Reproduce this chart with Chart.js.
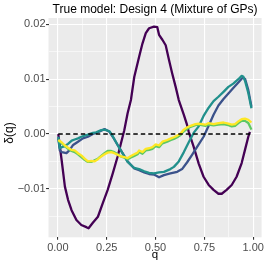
<!DOCTYPE html>
<html>
<head>
<meta charset="utf-8">
<script src="https://cdn.jsdelivr.net/npm/chart.js@4/dist/chart.umd.min.js"></script>
<style>
  html, body { margin: 0; padding: 0; background: #ffffff; }
  #wrap { width: 266px; height: 266px; position: relative; }
</style>
</head>
<body>
<div id="wrap"><canvas id="c"></canvas></div>
<script>
// ---- Data ----
const titleText = "True model: Design 4 (Mixture of GPs)";
const xTitle = "q";
const yTitle = "δ(q)";

const xMajorTicks = [0, 0.25, 0.5, 0.75, 1];
const xMinorTicks = [0.125, 0.375, 0.625, 0.875];
const yMajorTicks = [-0.01, 0, 0.01, 0.02];
const yMinorTicks = [-0.015, -0.005, 0.005, 0.015];

const seriesColors = ["#440154", "#3B528B", "#21908C", "#5DC863", "#FDE725"];

const s1Q = [0.002,0.019,0.036,0.052,0.070,0.095,0.120,0.146,0.157,0.179,0.205,0.230,0.255,0.281,0.306,0.323,0.340,0.357,0.374,0.391,0.416,0.433,0.450,0.467,0.492,0.509,0.518,0.535,0.552,0.569,0.585,0.603,0.619,0.645,0.661,0.670,0.695,0.721,0.746,0.772,0.797,0.822,0.839,0.864,0.890,0.915,0.941,0.958,0.975,0.983];
const s1D = [0.0000,-0.0047,-0.0096,-0.0120,-0.0139,-0.0157,-0.0166,-0.0170,-0.0172,-0.0162,-0.0151,-0.0126,-0.0102,-0.0072,-0.0041,-0.0017,0.0007,0.0038,0.0062,0.0104,0.0141,0.0165,0.0184,0.0193,0.0196,0.0195,0.0181,0.0172,0.0162,0.0135,0.0111,0.0086,0.0062,0.0035,0.0017,0.0004,-0.0023,-0.0054,-0.0078,-0.0093,-0.0102,-0.0109,-0.0109,-0.0102,-0.0093,-0.0078,-0.0053,-0.0029,-0.0005,0.0004];

const s2Q = [0.002,0.010,0.020,0.044,0.061,0.078,0.103,0.128,0.154,0.179,0.196,0.222,0.239,0.264,0.281,0.306,0.331,0.357,0.391,0.416,0.442,0.467,0.492,0.518,0.543,0.576,0.611,0.636,0.661,0.687,0.721,0.746,0.772,0.797,0.822,0.848,0.873,0.898,0.924,0.941,0.949,0.959,0.975,0.991];
const s2D = [-0.0008,-0.0030,-0.0033,-0.0035,-0.0029,-0.0020,-0.0014,-0.0008,-0.0005,0.0000,0.0002,0.0006,0.0009,0.0004,-0.0005,-0.0020,-0.0035,-0.0050,-0.0063,-0.0066,-0.0070,-0.0073,-0.0074,-0.0079,-0.0075,-0.0072,-0.0069,-0.0064,-0.0052,-0.0038,-0.0019,-0.0005,0.0015,0.0035,0.0052,0.0064,0.0074,0.0084,0.0094,0.0101,0.0103,0.0100,0.0080,0.0050];

const s3Q = [0.002,0.010,0.020,0.036,0.052,0.071,0.086,0.103,0.120,0.137,0.154,0.179,0.196,0.222,0.239,0.264,0.281,0.306,0.331,0.357,0.391,0.416,0.442,0.467,0.492,0.518,0.543,0.576,0.594,0.619,0.645,0.670,0.695,0.721,0.746,0.772,0.797,0.822,0.848,0.873,0.898,0.924,0.941,0.949,0.959,0.975,0.991];
const s3D = [-0.0005,-0.0026,-0.0024,-0.0022,-0.0018,-0.0012,-0.0010,-0.0008,-0.0005,-0.0003,-0.0001,0.0002,0.0003,0.0007,0.0008,0.0005,-0.0004,-0.0020,-0.0035,-0.0051,-0.0062,-0.0064,-0.0068,-0.0071,-0.0072,-0.0070,-0.0069,-0.0064,-0.0060,-0.0050,-0.0033,-0.0015,0.0002,0.0014,0.0033,0.0048,0.0060,0.0068,0.0077,0.0086,0.0092,0.0100,0.0106,0.0105,0.0096,0.0075,0.0047];

const s45Q = [0.002,0.019,0.036,0.052,0.070,0.086,0.103,0.120,0.137,0.154,0.171,0.188,0.205,0.222,0.239,0.255,0.273,0.289,0.306,0.323,0.340,0.357,0.374,0.391,0.408,0.416,0.433,0.450,0.467,0.484,0.501,0.518,0.535,0.560,0.579,0.594,0.611,0.628,0.645,0.661,0.679,0.704,0.721,0.738,0.755,0.772,0.797,0.822,0.848,0.873,0.890,0.907,0.924,0.941,0.958,0.975,0.991];
const s4D = [-0.0012,-0.0017,-0.0022,-0.0027,-0.0031,-0.0033,-0.0037,-0.0042,-0.0047,-0.0051,-0.0051,-0.0048,-0.0045,-0.0040,-0.0035,-0.0031,-0.0031,-0.0033,-0.0037,-0.0041,-0.0043,-0.0046,-0.0043,-0.0040,-0.0037,-0.0033,-0.0036,-0.0030,-0.0029,-0.0027,-0.0022,-0.0024,-0.0017,-0.0014,-0.0011,-0.0009,-0.0006,-0.0002,0.0005,0.0009,0.0013,0.0016,0.0017,0.0016,0.0015,0.0017,0.0016,0.0017,0.0018,0.0016,0.0014,0.0015,0.0020,0.0024,0.0024,0.0020,0.0008];
const s5D = [-0.0011,-0.0015,-0.0021,-0.0025,-0.0029,-0.0030,-0.0035,-0.0039,-0.0045,-0.0050,-0.0049,-0.0050,-0.0046,-0.0041,-0.0037,-0.0034,-0.0033,-0.0035,-0.0038,-0.0041,-0.0042,-0.0044,-0.0040,-0.0037,-0.0034,-0.0030,-0.0033,-0.0027,-0.0026,-0.0024,-0.0019,-0.0021,-0.0014,-0.0011,-0.0008,-0.0006,-0.0003,0.0001,0.0008,0.0012,0.0015,0.0018,0.0019,0.0018,0.0017,0.0020,0.0018,0.0020,0.0021,0.0019,0.0017,0.0018,0.0023,0.0027,0.0028,0.0026,0.0021];

const zeroQ = [0.002, 0.988];
const zeroD = [0, 0];

// ---- Build chart ----
const pts = (qs, ds) => qs.map((q, i) => ({ x: q, y: ds[i] }));
const FONT = "'Liberation Sans', Arial, Helvetica, sans-serif";

function lineDs(qs, ds, color, order) {
  return { data: pts(qs, ds), borderColor: color, borderWidth: 2.3, pointRadius: 0,
           tension: 0, fill: false, order: order, borderJoinStyle: 'round', borderCapStyle: 'butt' };
}

const datasets = [
  { data: pts(zeroQ, zeroD), borderColor: "#000000", borderWidth: 1.3, borderDash: [4.5, 3],
    pointRadius: 0, fill: false, order: -1 },
  lineDs(s1Q, s1D, seriesColors[0], 5),
  lineDs(s2Q, s2D, seriesColors[1], 4),
  lineDs(s3Q, s3D, seriesColors[2], 3),
  lineDs(s45Q, s4D, seriesColors[3], 2),
  lineDs(s45Q, s5D, seriesColors[4], 1)
];

const fmt = v => {
  const s = (Math.abs(v) < 1e-12 ? 0 : v).toFixed(2);
  return s.replace('-', '\u2212');
};
const isIn = (arr, v) => arr.some(a => Math.abs(a - v) < 1e-9);

const decor = {
  id: 'decor',
  beforeDraw(chart) {
    const { ctx, chartArea: a } = chart;
    ctx.save();
    ctx.fillStyle = '#EBEBEB';
    ctx.fillRect(a.left, a.top, a.right - a.left, a.bottom - a.top);
    ctx.restore();
  },
  afterDraw(chart) {
    const { ctx, chartArea: a } = chart;
    const cx = (a.left + a.right) / 2;
    ctx.save();
    ctx.fillStyle = '#000000';
    ctx.textAlign = 'center';
    ctx.textBaseline = 'alphabetic';
    ctx.font = "12px " + FONT;
    ctx.fillText(titleText, cx, 12.8);
    ctx.font = "11.5px " + FONT;
    ctx.fillText(xTitle, cx, 258);
    ctx.translate(12.6, 133);
    ctx.rotate(-Math.PI / 2);
    ctx.font = "12px " + FONT;
    ctx.fillText(yTitle, 0, 0);
    ctx.restore();
  }
};

new Chart(document.getElementById('c'), {
  type: 'line',
  data: { datasets },
  plugins: [decor],
  options: {
    responsive: true,
    maintainAspectRatio: false,
    animation: false,
    devicePixelRatio: 1,
    layout: { padding: { top: 18, right: 2.5, bottom: 0, left: 0 } },
    plugins: { legend: { display: false }, title: { display: false }, tooltip: { enabled: false } },
    scales: {
      x: {
        type: 'linear', min: -0.048, max: 1.043,
        afterBuildTicks: s => { s.ticks = xMajorTicks.concat(xMinorTicks).sort((a,b)=>a-b).map(v => ({ value: v })); },
        afterFit: s => { s.height = 28.7; },
        border: { display: false },
        grid: {
          color: '#FFFFFF',
          lineWidth: c => isIn(xMajorTicks, c.tick.value) ? 1.1 : 0.55,
          drawTicks: true, tickLength: 2.5,
          tickColor: c => isIn(xMajorTicks, c.tick.value) ? '#333333' : 'rgba(0,0,0,0)',
          tickWidth: 1.1
        },
        ticks: {
          autoSkip: false, maxRotation: 0, padding: 2, color: '#4D4D4D',
          font: { family: FONT, size: 11 },
          callback: v => isIn(xMajorTicks, v) ? fmt(v) : ''
        }
      },
      y: {
        type: 'linear', min: -0.01885, max: 0.02117,
        afterBuildTicks: s => { s.ticks = yMajorTicks.concat(yMinorTicks).sort((a,b)=>a-b).map(v => ({ value: v })); },
        afterFit: s => { s.width = 48.5; },
        border: { display: false },
        grid: {
          color: '#FFFFFF',
          lineWidth: c => isIn(yMajorTicks, c.tick.value) ? 1.1 : 0.55,
          drawTicks: true, tickLength: 2.5,
          tickColor: c => isIn(yMajorTicks, c.tick.value) ? '#333333' : 'rgba(0,0,0,0)',
          tickWidth: 1.1
        },
        ticks: {
          autoSkip: false, padding: 0.5, color: '#4D4D4D',
          font: { family: FONT, size: 11 },
          callback: v => isIn(yMajorTicks, v) ? fmt(v) : ''
        }
      }
    }
  }
});
</script>
</body>
</html>
